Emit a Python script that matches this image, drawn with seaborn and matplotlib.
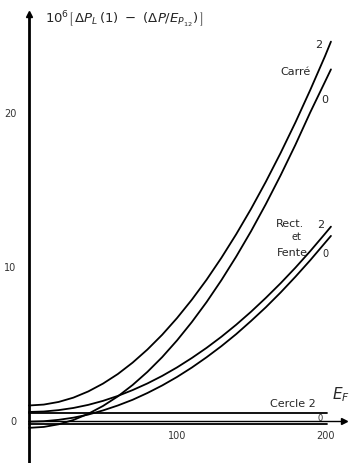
import pandas as pd
import numpy as np
import seaborn as sns
from matplotlib import pyplot as plt

# values
x_vals = [0, 10, 20, 30, 40, 50, 60, 70, 80, 90, 100,
          110, 120, 130, 140, 150, 160, 170, 180, 190, 200, 204]
carre_2 = [1.0, 1.06, 1.23, 1.51, 1.91, 2.42, 3.04, 3.78, 4.63, 5.59, 6.67,
           7.86, 9.16, 10.58, 12.11, 13.75, 15.51, 17.38, 19.36, 21.46, 23.66, 24.6]
carre_0 = [-0.45, -0.39, -0.22, 0.06, 0.46, 0.97, 1.59, 2.33, 3.18, 4.14, 5.22,
           6.41, 7.71, 9.13, 10.66, 12.30, 14.06, 15.93, 17.91, 20.01, 22.0, 22.8]
rect_2 = [0.58, 0.61, 0.70, 0.84, 1.04, 1.30, 1.62, 2.00, 2.43, 2.92, 3.47,
          4.08, 4.74, 5.46, 6.24, 7.08, 7.98, 8.93, 9.94, 11.01, 12.14, 12.6]
rect_0 = [-0.05, -0.02, 0.07, 0.21, 0.41, 0.68, 1.0, 1.37, 1.81, 2.3, 2.85,
          3.46, 4.13, 4.85, 5.63, 6.48, 7.37, 8.33, 9.35, 10.42, 11.55, 12.0]

cercle_x = [0, 201]
cercle_2 = [0.5, 0.5]
cercle_0 = [-0.2, -0.2]

y_ticks = [0, 10, 20]
x_ticks = [100, 200]

curves = {'Carré 2': (x_vals, carre_2), 'Carré 0': (x_vals, carre_0),
          'Rect 2': (x_vals, rect_2), 'Rect 0': (x_vals, rect_0),
          'Cercle 2': (cercle_x, cercle_2), 'Cercle 0': (cercle_x, cercle_0)}
rows = []
for name, (xs, ys) in curves.items():
    for a, b in zip(xs, ys):
        rows.append({'E': a, 'dP': b, 'courbe': name})
df = pd.DataFrame(rows)

sns.set_style('white')
plt.rcParams['font.family'] = ['DejaVu Sans']

fig = plt.figure(figsize=(3.49, 4.63), dpi=100)
ax = fig.add_axes([0, 0, 1, 1])

sns.lineplot(data=df, x='E', y='dP', hue='courbe', palette=['black'] * 6,
             linewidth=1.3, legend=False, ax=ax, estimator=None, sort=True)

ax.set_xlim(-19.6, 216.2)
ax.set_ylim(-2.73, 27.3)

# axes drawn through the origin with arrows
for s in ['top', 'right']:
    ax.spines[s].set_visible(False)
ax.spines['left'].set_position(('data', 0))
ax.spines['bottom'].set_position(('data', 0))
ax.spines['left'].set_bounds(-2.73, 26.4)
ax.spines['bottom'].set_bounds(0, 213)
ax.spines['left'].set_linewidth(2.0)
ax.spines['bottom'].set_linewidth(1.0)
ax.spines['left'].set_color('black')
ax.spines['bottom'].set_color('black')
ax.plot(0, 26.4, '^k', markersize=5, clip_on=False)
ax.plot(213, 0, '>k', markersize=4, clip_on=False)

ax.set_yticks(y_ticks, labels=[str(t) for t in y_ticks])
ax.set_xticks(x_ticks, labels=[str(t) for t in x_ticks])
ax.tick_params(axis='y', direction='inout', length=6, width=1, pad=6,
               labelsize=7, colors='black', labelcolor='#333333')
ax.tick_params(axis='x', direction='inout', length=3, width=0.8, pad=6,
               labelsize=7, labelcolor='#333333')
ax.set_xlabel('')
ax.set_ylabel('')

ax.text(10.5, 26.0, r'$10^6\left[\,\Delta P_L\,(1)\ -\ (\Delta P/E_{P_{12}})\,\right]$',
        fontsize=9.5, ha='left', va='center')

# curve labels
lab = dict(fontsize=8, ha='center', va='center')
ax.text(180, 22.6, 'Carré', **lab)
ax.text(196, 24.4, '2', **lab)
ax.text(200, 20.8, '0', **lab)
ax.text(176, 12.8, 'Rect.', **lab)
ax.text(181, 11.9, 'et', fontsize=7, ha='center', va='center')
ax.text(178, 10.9, 'Fente', **lab)
ax.text(197, 12.7, '2', **lab)
ax.text(200, 10.8, '0', fontsize=7, ha='center', va='center')
ax.text(178, 1.1, 'Cercle 2', **lab)
ax.text(197, 0.15, '0', fontsize=6, ha='center', va='center')
ax.text(205, 1.7, r'$E_F$', fontsize=11, ha='left', va='center')

fig.savefig('out.png', dpi=100)
